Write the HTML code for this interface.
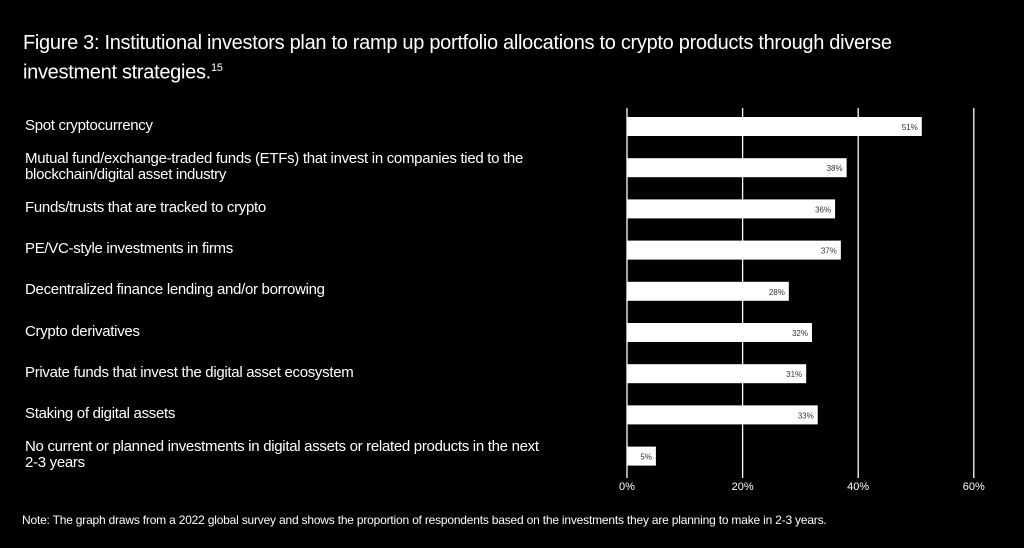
<!DOCTYPE html>
<html><head><meta charset="utf-8"><style>
body{margin:0;width:1024px;height:548px;background:#000;overflow:hidden;font-family:"Liberation Sans",sans-serif;color:#fff;position:relative}
.t{position:absolute;left:23px;top:31px;font-size:20px;line-height:25px;width:940px;letter-spacing:-0.3px}
.lab{position:absolute;left:25px;font-size:15px;line-height:16px;letter-spacing:-0.3px;white-space:pre-line;width:600px}
.note{position:absolute;left:22px;top:513px;font-size:12px;letter-spacing:-0.2px}
</style></head><body>
<div class="t">Figure 3: Institutional investors plan to ramp up portfolio allocations to crypto products through diverse<br>investment strategies.<sup style="font-size:11px">15</sup></div>
<div id="labels"></div>
<svg id="chart" width="1024" height="548" style="position:absolute;left:0;top:0"></svg>
<div class="note">Note: The graph draws from a 2022 global survey and shows the proportion of respondents based on the investments they are planning to make in 2-3 years.</div>
<script>
const categories=["Spot cryptocurrency","Mutual fund/exchange-traded funds (ETFs) that invest in companies tied to the\nblockchain/digital asset industry","Funds/trusts that are tracked to crypto","PE/VC-style investments in firms","Decentralized finance lending and/or borrowing","Crypto derivatives","Private funds that invest the digital asset ecosystem","Staking of digital assets","No current or planned investments in digital assets or related products in the next\n2-3 years"];
const values=[51,38,36,37,28,32,31,33,5];
const ticks=[0,20,40,60];
const NS="http://www.w3.org/2000/svg";
const svg=document.getElementById('chart');
const x0=627,pxPer=5.78;
function xs(v){return x0+v*pxPer;}
function yTop(i){return 117+i*41.2;}
const bh=19;
ticks.forEach(t=>{
 const l=document.createElementNS(NS,'line');
 
 
 l.setAttribute('x1',xs(t));l.setAttribute('x2',xs(t));l.setAttribute('y1',108);l.setAttribute('y2',478);
 l.setAttribute('stroke','#fff');l.setAttribute('stroke-width','1.3');svg.appendChild(l);
 const tx=document.createElementNS(NS,'text');
 
 
 tx.setAttribute('x',xs(t));tx.setAttribute('y',490);tx.setAttribute('text-anchor','middle');
 tx.setAttribute('fill','#fff');tx.setAttribute('font-size','11');tx.textContent=t+'%';svg.appendChild(tx);
});
const labDiv=document.getElementById('labels');
values.forEach((v,i)=>{
 const r=document.createElementNS(NS,'rect');
 
 
 r.setAttribute('x',x0);r.setAttribute('y',yTop(i));r.setAttribute('width',xs(v)-x0);r.setAttribute('height',bh);
 r.setAttribute('fill','#fff');svg.appendChild(r);
 const tx=document.createElementNS(NS,'text');
 
 
 tx.setAttribute('x',xs(v)-4);tx.setAttribute('y',yTop(i)+13);tx.setAttribute('text-anchor','end');
 tx.setAttribute('fill','#333');tx.setAttribute('font-size','8');tx.textContent=v+'%';svg.appendChild(tx);
 const d=document.createElement('div');
 d.className='lab';
 
 
 const two=categories[i].indexOf('\n')>=0;
 d.style.top=(yTop(i)+bh/2-(two?16:8)-1)+'px';
 d.textContent=categories[i];labDiv.appendChild(d);
});
</script>
</body></html>
